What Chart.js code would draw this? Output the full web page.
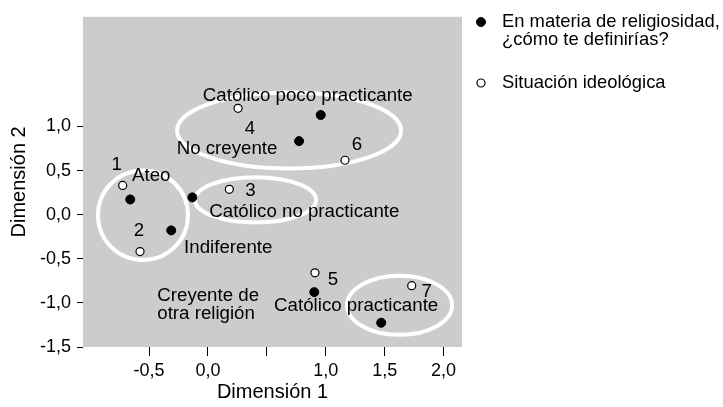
<!DOCTYPE html>
<html>
<head>
<meta charset="utf-8">
<script src="https://cdn.jsdelivr.net/npm/chart.js@4/dist/chart.umd.min.js"></script>
<style>
  body { margin: 0; background: #fff; }
  #grafico { display: block; }
</style>
</head>
<body>
<canvas id="grafico" width="723" height="407"></canvas>
<script>
// Datos (coordenadas en Dimensión 1 / Dimensión 2)
const religionLabels = ['Católico poco practicante', 'No creyente', 'Ateo', 'Católico no practicante', 'Indiferente', ['Creyente de', 'otra religión'], 'Católico practicante'];
const religionX = [0.957, 0.773, -0.660, -0.133, -0.312, 0.902, 1.470];
const religionY = [1.130, 0.834, 0.172, 0.196, -0.178, -0.878, -1.225];

const ideologyLabels = ['1', '2', '3', '4', '5', '6', '7'];
const ideologyX = [-0.724, -0.577, 0.181, 0.255, 0.908, 1.163, 1.729];
const ideologyY = [0.331, -0.418, 0.287, 1.205, -0.659, 0.617, -0.805];

const legendReligion = ['En materia de religiosidad,', '¿cómo te definirías?'];
const legendIdeology = ['Situación ideológica'];

const xTicks = [-0.5, 0, 0.5, 1, 1.5, 2];
const xTickLabels = ['-0,5', '0,0', '', '1,0', '1,5', '2,0'];
const yTicks = [-1.5, -1, -0.5, 0, 0.5, 1];
const yTickLabels = ['-1,5', '-1,0', '-0,5', '0,0', '0,5', '1,0'];

// grupos marcados con elipses (centro y semiejes)
const clusterX = [0.688, -0.552, 0.403, 1.626];
const clusterY = [0.954, -0.006, 0.167, -1.027];
const clusterRx = [0.951, 0.382, 0.514, 0.446];
const clusterRy = [0.430, 0.508, 0.257, 0.335];

const FUENTE = "'Liberation Sans', Arial, Helvetica, sans-serif";

// posiciones de los textos respecto al punto (px)
const offsetsReligion = [[-13, -19, 'center'], [-72, 8, 'center'], [21, -24, 'center'], [112, 14, 'center'], [57, 17, 'center'], [-157, 13, 'left'], [-25, -17, 'center']];
const offsetsIdeology = [[-6, -21], [-1, -21], [21, 1], [12, 20], [18, 7], [12, -15], [15, 6]];

const fondo = {
  id: 'fondo',
  beforeDraw(chart) {
    const { ctx, chartArea: a } = chart;
    ctx.save();
    ctx.fillStyle = '#cccccc';
    ctx.fillRect(a.left, a.top, a.right - a.left, a.bottom - a.top);
    ctx.restore();
  }
};

const elipses = {
  id: 'elipses',
  beforeDatasetsDraw(chart) {
    const { ctx, scales: { x, y } } = chart;
    ctx.save();
    ctx.strokeStyle = '#ffffff';
    ctx.lineWidth = 4;
    clusterX.forEach((cx, i) => {
      const px = x.getPixelForValue(cx);
      const py = y.getPixelForValue(clusterY[i]);
      const rx = x.getPixelForValue(cx + clusterRx[i]) - px;
      const ry = py - y.getPixelForValue(clusterY[i] + clusterRy[i]);
      ctx.beginPath();
      ctx.ellipse(px, py, rx, ry, 0, 0, Math.PI * 2);
      ctx.stroke();
    });
    ctx.restore();
  }
};

const etiquetas = {
  id: 'etiquetas',
  afterDatasetsDraw(chart) {
    const { ctx } = chart;
    ctx.save();
    ctx.fillStyle = '#000';
    ctx.textBaseline = 'middle';
    ctx.font = '18.7px ' + FUENTE;
    chart.getDatasetMeta(0).data.forEach((p, i) => {
      const [dx, dy, al] = offsetsReligion[i];
      const lineas = [].concat(religionLabels[i]);
      ctx.textAlign = al;
      lineas.forEach((t, k) => {
        ctx.fillText(t, p.x + dx, p.y + dy + (k - (lineas.length - 1) / 2) * 18);
      });
    });
    ctx.textAlign = 'center';
    chart.getDatasetMeta(1).data.forEach((p, i) => {
      const [dx, dy] = offsetsIdeology[i];
      ctx.fillText(ideologyLabels[i], p.x + dx, p.y + dy);
    });
    ctx.restore();
  }
};

const leyenda = {
  id: 'leyenda',
  afterDraw(chart) {
    const { ctx } = chart;
    const filas = [[legendReligion, 22], [legendIdeology, 83]];
    ctx.save();
    ctx.font = '18.4px ' + FUENTE;
    ctx.textBaseline = 'middle';
    ctx.textAlign = 'left';
    chart.data.datasets.forEach((ds, i) => {
      const [lineas, y0] = filas[i];
      ctx.beginPath();
      ctx.arc(481, y0, ds.pointRadius, 0, Math.PI * 2);
      ctx.fillStyle = ds.backgroundColor;
      ctx.fill();
      ctx.lineWidth = ds.borderWidth;
      ctx.strokeStyle = ds.borderColor;
      ctx.stroke();
      ctx.fillStyle = '#000';
      lineas.forEach((t, k) => ctx.fillText(t, 502, y0 + k * 18));
    });
    ctx.restore();
  }
};

new Chart(document.getElementById('grafico'), {
  type: 'scatter',
  data: {
    datasets: [
      {
        label: legendReligion.join(' '),
        data: religionX.map((v, i) => ({ x: v, y: religionY[i] })),
        backgroundColor: '#000000',
        borderColor: '#000000',
        borderWidth: 1,
        pointRadius: 4.5
      },
      {
        label: legendIdeology.join(' '),
        data: ideologyX.map((v, i) => ({ x: v, y: ideologyY[i] })),
        backgroundColor: '#ffffff',
        borderColor: '#000000',
        borderWidth: 1.2,
        pointRadius: 4
      }
    ]
  },
  options: {
    responsive: false,
    animation: false,
    layout: { padding: { top: 12, right: 261, bottom: 0, left: 0 } },
    plugins: { legend: { display: false }, tooltip: { enabled: false } },
    scales: {
      x: {
        type: 'linear',
        min: -1.061,
        max: 2.156,
        afterBuildTicks: s => { s.ticks = xTicks.map(v => ({ value: v })); },
        afterFit: s => { s.height = 60; },
        ticks: {
          autoSkip: false,
          maxRotation: 0,
          padding: 4,
          color: '#000',
          font: { family: FUENTE, size: 18 },
          callback: (v, i) => xTickLabels[i]
        },
        grid: { drawOnChartArea: false, tickLength: 9, tickColor: '#000', tickWidth: 1 },
        border: { display: false },
        title: {
          display: true,
          text: 'Dimensión 1',
          color: '#000',
          font: { family: FUENTE, size: 20 },
          padding: { top: 0, bottom: 3 }
        }
      },
      y: {
        type: 'linear',
        min: -1.5,
        max: 2.243,
        afterBuildTicks: s => { s.ticks = yTicks.map(v => ({ value: v })); },
        afterFit: s => { s.width = 83; },
        ticks: {
          autoSkip: false,
          padding: 6,
          color: '#000',
          font: { family: FUENTE, size: 18 },
          callback: (v, i) => yTickLabels[i]
        },
        grid: { drawOnChartArea: false, tickLength: 6, tickColor: '#000', tickWidth: 1 },
        border: { display: false },
        title: {
          display: true,
          text: 'Dimensión 2',
          color: '#000',
          font: { family: FUENTE, size: 20 },
          padding: { top: 7, bottom: 0 }
        }
      }
    }
  },
  plugins: [fondo, elipses, etiquetas, leyenda]
});
</script>
</body>
</html>
